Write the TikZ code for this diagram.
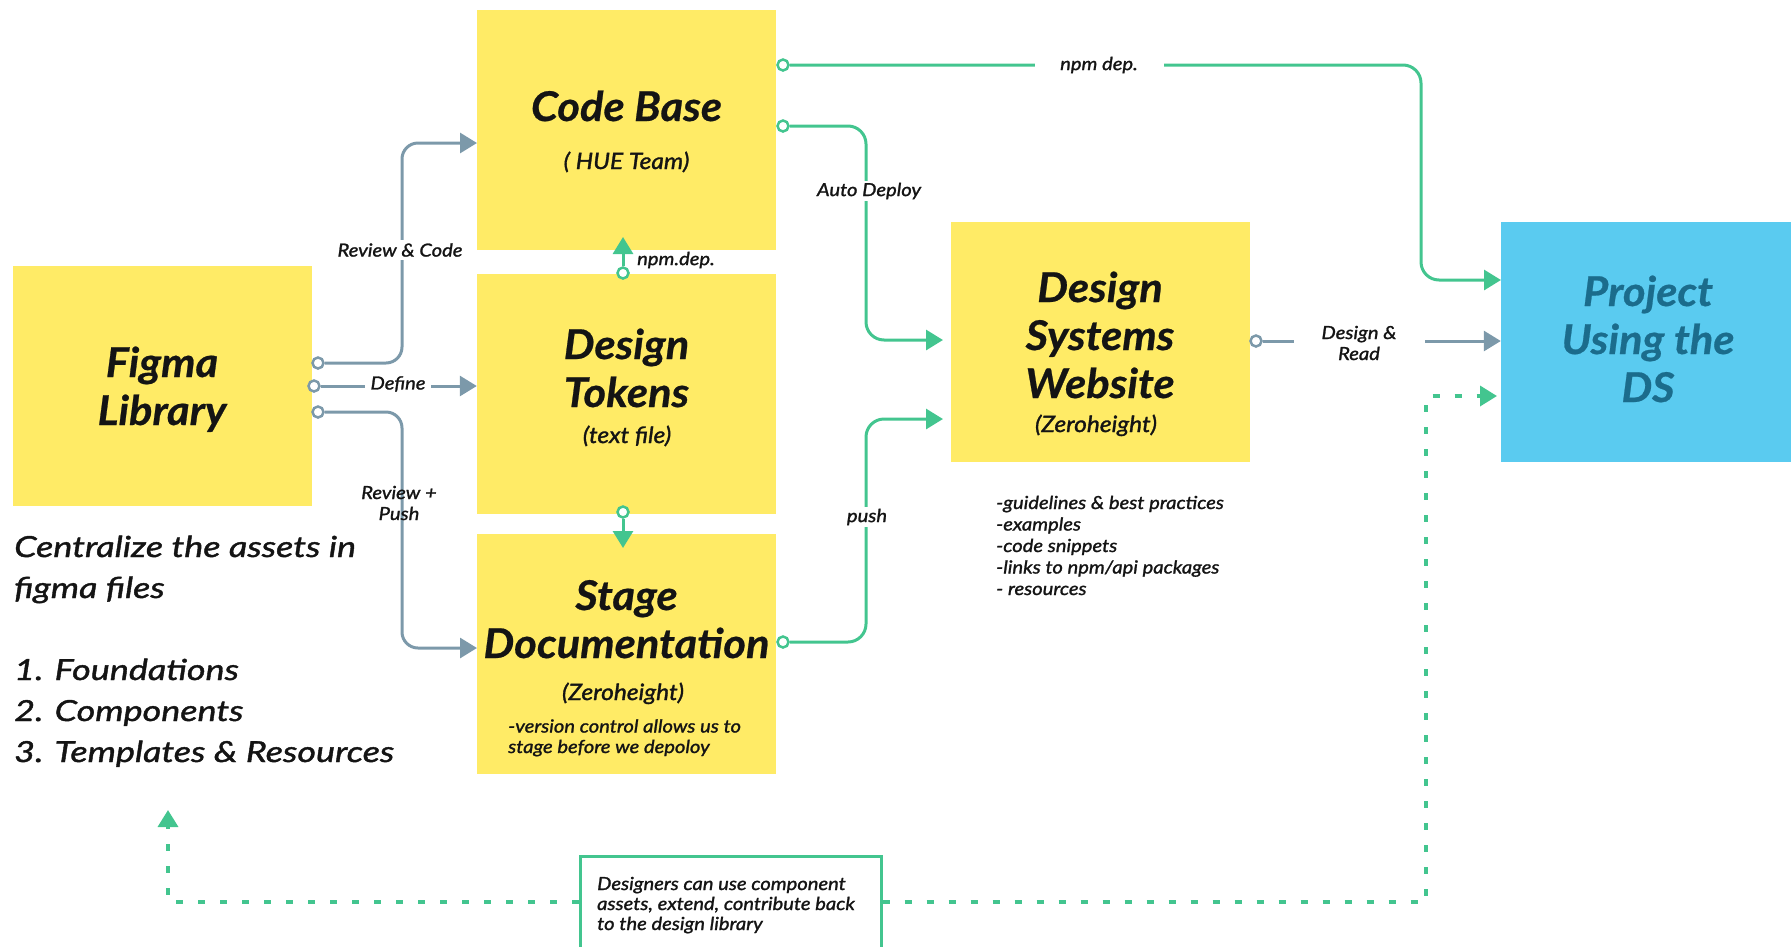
\documentclass[tikz,border=0pt]{standalone}
\usepackage{fontspec}
\setmainfont{Lato}
\newfontfamily\latohead{Lato}[FakeStretch=1.06, FakeBold=0.6, BoldItalicFeatures={FakeBold=0.6}]
\newfontfamily\latosub{Lato}[FakeStretch=1.09, ItalicFeatures={FakeBold=1.4}]
\newfontfamily\latolab{Lato}[FakeStretch=1.12, ItalicFeatures={FakeBold=1.4}]
\newfontfamily\latointro{Lato}[FakeStretch=1.24, ItalicFeatures={FakeBold=1.4}]
\usetikzlibrary{arrows.meta}
\definecolor{boxyellow}{HTML}{FFEB66}
\definecolor{boxblue}{HTML}{5ACBF0}
\definecolor{deepteal}{HTML}{1B6C8C}
\definecolor{flowgreen}{HTML}{43C58F}
\definecolor{slate}{HTML}{7C99AA}
\definecolor{ink}{HTML}{141414}
\tikzset{
  block/.style={fill=boxyellow, minimum width=299pt, minimum height=240pt, inner sep=0pt},
  headtext/.style={font=\fontsize{41}{48}\selectfont\latohead\bfseries\itshape, text=ink, align=center, inner sep=0pt},
  subtext/.style={font=\fontsize{22.5}{26}\selectfont\latosub\itshape, text=ink, inner sep=0pt},
  smalltext/.style={font=\fontsize{18}{21}\selectfont\latolab\itshape, text=ink, inner sep=0pt},
  tag/.style={font=\fontsize{18}{21}\selectfont\latolab\itshape, text=ink, align=center, fill=white, inner sep=3pt},
  gport/.style={circle, draw=slate, fill=white, line width=2.5pt, minimum size=11pt, inner sep=0pt},
  cport/.style={circle, draw=flowgreen, fill=white, line width=2.5pt, minimum size=11pt, inner sep=0pt},
  gline/.style={draw=slate, line width=3pt, rounded corners=16pt},
  cline/.style={draw=flowgreen, line width=3pt, rounded corners=18pt},
  dline/.style={draw=flowgreen, line width=3.5pt, dash pattern=on 7pt off 15pt},
  gtip/.style={-{Triangle[length=17pt,width=20pt,fill=slate]}},
  ctip/.style={-{Triangle[length=17pt,width=20pt,fill=flowgreen]}},
}
\begin{document}
\begin{tikzpicture}[x=1pt,y=-1pt]
\useasboundingbox (0,0) rectangle (1791,946);

% blocks
\node[block] (fl) at (162,386) {};
\node[block] (cb) at (626.5,130) {};
\node[block] (dt) at (626.5,393.5) {};
\node[block] (sd) at (626.5,654) {};
\node[block] (ds) at (1100,341.5) {};
\node[fill=boxblue, minimum width=300pt, minimum height=240pt, inner sep=0pt] (pj) at (1651,341.5) {};
\node[draw=flowgreen, line width=3pt, fill=white, minimum width=301pt, minimum height=92pt, inner sep=0pt] (note) at (730.5,902) {};

% block titles (multi-line nodes sit on their last baseline)
\node[headtext, anchor=base] (flT) at (162,425) {Figma\\Library};
\node[headtext, anchor=base] (cbT) at (626.5,121) {Code Base};
\node[subtext, anchor=base] (cbS) at (626.5,169) {( HUE Team)};
\node[headtext, anchor=base] (dtT) at (626.5,407) {Design\\Tokens};
\node[subtext, anchor=base] (dtS) at (627,443) {(text file)};
\node[headtext, anchor=base] (sdT) at (626.5,658) {Stage\\Documentation};
\node[subtext, anchor=base] (sdS) at (623,700) {(Zeroheight)};
\node[smalltext, anchor=base west, align=left, font=\fontsize{18}{20.5}\selectfont\latolab\itshape] (sdN) at (508,753) {-version control allows us to\\stage before we depoloy};
\node[headtext, anchor=base] (dsT) at (1100,398) {Design\\Systems\\Website};
\node[subtext, anchor=base] (dsS) at (1096,432) {(Zeroheight)};
\node[headtext, anchor=base, text=deepteal] (pjT) at (1648,402) {Project\\Using the\\DS};

% notes
\node[anchor=base west, align=left, inner sep=0pt, text=ink, font=\fontsize{29}{41}\selectfont\latointro\itshape] (intro) at (14,762)
  {Centralize the assets in\\figma files\\[41pt]1. Foundations\\2. Components\\3. Templates \& Resources};
\node[smalltext, anchor=base west, align=left, font=\fontsize{18}{21.5}\selectfont\latolab\itshape] (dsN) at (996,595)
  {-guidelines \& best practices\\-examples\\-code snippets\\-links to npm/api packages\\- resources};
\node[smalltext, anchor=base west, align=left, font=\fontsize{18}{20}\selectfont\latolab\itshape] (noteT) at (597,930)
  {Designers can use component\\assets, extend, contribute back\\to the design library};

% ports
\node[gport] (fl1) at (318,363) {};
\node[gport] (fl2) at (314,386) {};
\node[gport] (fl3) at (318,412) {};
\node[cport] (dt1) at (623,273) {};
\node[cport] (dt2) at (623,512) {};
\node[cport] (cb1) at (783,65) {};
\node[cport] (cb2) at (783,126) {};
\node[cport] (sd1) at (783,642) {};
\node[gport] (ds1) at (1256,341) {};

% arrow ends
\coordinate (cbIn) at (477,143);
\coordinate (sdIn) at (477,648);
\coordinate (cbUp) at (623,237);
\coordinate (sdDown) at (623,548);
\coordinate (pjTop) at (1501,280);
\coordinate (pjLow) at (1501,396);
\coordinate (dsTop) at (951,340);
\coordinate (dsLow) at (951,419);
\coordinate (flUp) at (168,810);

% Figma library flows
\draw[gline, gtip] (fl1.east) -- (402,363) -- (402,143) -- (cbIn);
\draw[gline, gtip] (fl2.east) -- (dt.west |- fl2);
\draw[gline, gtip] (fl3.east) -- (402,412) -- (402,648) -- (sdIn);
\node[tag] (lRC) at (400,250) {Review \& Code};
\node[tag, inner xsep=6pt] (lDef) at (398,384) {Define};
\node[smalltext, align=center] (lRP) at (399,503) {Review +\\Push};

% token and code flows
\draw[cline, ctip] (dt1.north) -- (cbUp);
\draw[cline, ctip] (dt2.south) -- (sdDown);
\node[smalltext, anchor=west] (lNpm1) at (637,260) {npm.dep.};

\draw[cline, ctip] (cb1.east) -- (1421,65) -- (1421,280) -- (pjTop);
\node[tag, minimum width=129pt] (lNpm2) at (1099,65) {npm dep.};

\draw[cline, ctip, shorten >=8pt] (cb2.east) -- (866,126) -- (866,340) -- (dsTop);
\node[tag, inner sep=2pt] (lAD) at (869,191) {Auto Deploy};

\draw[cline, ctip, shorten >=8pt] (sd1.east) -- (866,642) -- (866,419) -- (dsLow);
\node[tag, inner sep=2pt] (lPush) at (867,517) {push};

% website to project
\draw[gline, gtip] (ds1.east) -- (pj.west |- ds1);
\node[tag, minimum width=131pt] (lDR) at (1359,343) {Design \&\\Read};

% contribution loop
\draw[dline, ctip] (note.west) -- (168,902) -- (flUp);
\draw[dline, ctip, shorten >=4pt] (note.east) -- (1426,902) -- (1426,396) -- (pjLow);
\end{tikzpicture}
\end{document}
